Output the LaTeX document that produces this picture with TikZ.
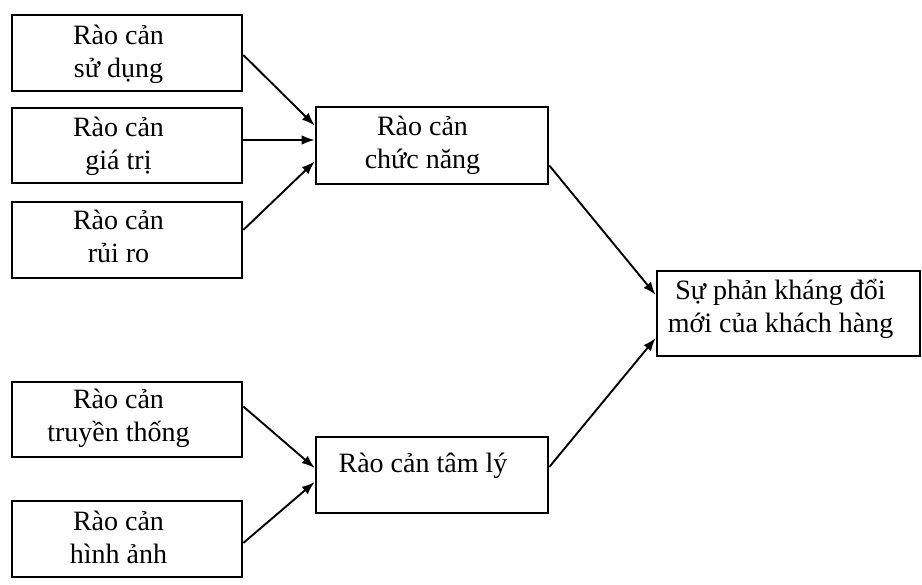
\documentclass[tikz,border=0pt]{standalone}
\usepackage{fontspec}
\setmainfont{Liberation Serif}
\usetikzlibrary{arrows.meta}
\begin{document}
\begin{tikzpicture}[x=1pt,y=-1pt,
  box/.style={draw, line width=2.6pt, inner sep=0pt},
  lbl/.style={anchor=base, align=center, inner sep=0pt, font=\fontsize{28}{33}\selectfont},
  conn/.style={-{Latex[length=13pt,width=9.5pt]}, line width=1.9pt}]
\useasboundingbox (0,0) rectangle (922,585);
% left boxes
\node[box, minimum width=230, minimum height=76] (b1) at (127,53) {};
\node[box, minimum width=230, minimum height=75] (b2) at (127,145.5) {};
\node[box, minimum width=230, minimum height=76] (b3) at (127,240) {};
\node[box, minimum width=230, minimum height=75] (b4) at (127,419.5) {};
\node[box, minimum width=230, minimum height=76] (b5) at (127,539) {};
% middle boxes
\node[box, minimum width=232, minimum height=77] (m1) at (432,145.5) {};
\node[box, minimum width=232, minimum height=76] (m2) at (432,475) {};
% right box
\node[box, minimum width=263, minimum height=85] (r) at (788.5,313.5) {};
% texts (anchor=base is the baseline of the last line)
\node[lbl] (t1) at (118.5,78) {Rào cản\\sử dụng};
\node[lbl] (t2) at (118.5,170) {Rào cản\\giá trị};
\node[lbl] (t3) at (118.5,263) {Rào cản\\rủi ro};
\node[lbl] (t4) at (118.5,442) {Rào cản\\truyền thống};
\node[lbl] (t5) at (118.5,563) {Rào cản\\hình ảnh};
\node[lbl] (tm1) at (422.5,169) {Rào cản\\chức năng};
\node[lbl] (tm2) at (423,472) {Rào cản tâm lý};
\node[lbl] (tr) at (780.5,333) {Sự phản kháng đổi\\mới của khách hàng};
% connectors
\draw[conn] ([yshift=-2pt]b1.east) -- ([yshift=20pt]m1.west);
\draw[conn] ([yshift=5.5pt]b2.east) -- ([yshift=5.5pt]m1.west);
\draw[conn] ([yshift=10pt]b3.east) -- ([yshift=-16pt]m1.west);
\draw[conn] ([yshift=13pt]b4.east) -- ([yshift=7pt]m2.west);
\draw[conn] ([yshift=-4pt]b5.east) -- ([yshift=-7pt]m2.west);
\draw[conn] ([yshift=-20pt]m1.east) -- ([yshift=18.5pt]r.west);
\draw[conn] ([yshift=8pt]m2.east) -- ([yshift=-24.5pt]r.west);
\end{tikzpicture}
\end{document}
